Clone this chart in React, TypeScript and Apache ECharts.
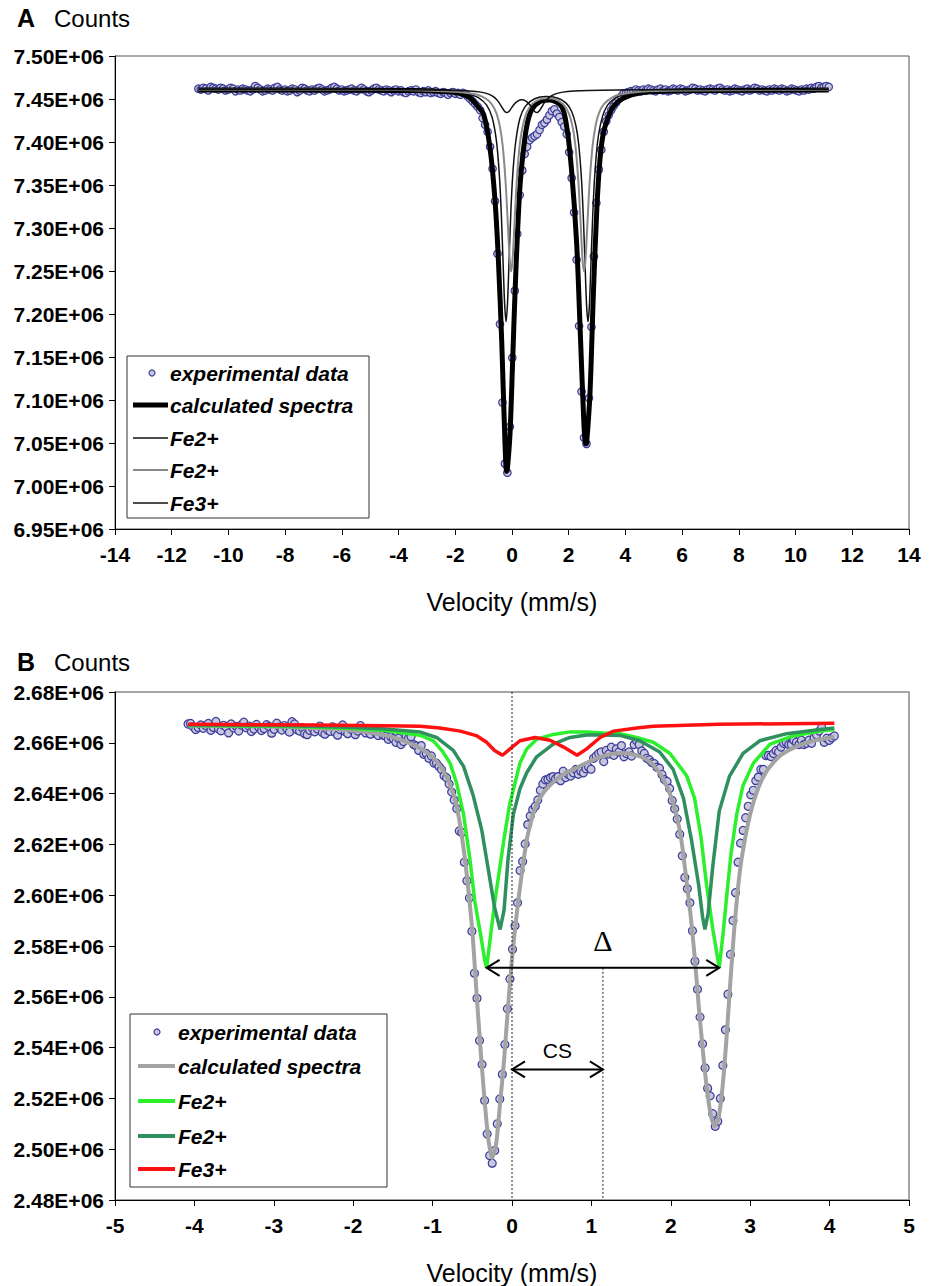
import React, { useEffect, useRef } from 'react';
import * as echarts from 'echarts';

const FONT = 'Arial, "Liberation Sans", Helvetica, sans-serif';

// ---------------- Panel A: wide velocity range ----------------
const A_V_FIRST = -11.06;
const A_V_LAST = 11.17;
// measured counts per channel (thousands)
const aCountsK = [
  7462, 7461, 7463, 7462, 7460, 7464, 7463, 7462, 7461, 7463,
  7462, 7460, 7461, 7463, 7462, 7459, 7461, 7460, 7462, 7461,
  7460, 7459, 7461, 7465, 7463, 7461, 7459, 7460, 7462, 7461,
  7460, 7463, 7464, 7461, 7460, 7461, 7459, 7460, 7462, 7461,
  7458, 7460, 7463, 7462, 7460, 7459, 7461, 7460, 7462, 7463,
  7461, 7459, 7460, 7461, 7463, 7464, 7462, 7460, 7461, 7459,
  7460, 7461, 7462, 7460, 7459, 7461, 7463, 7461, 7459, 7458,
  7460, 7462, 7463, 7461, 7460, 7459, 7461, 7460, 7458, 7460,
  7461, 7459, 7460, 7458, 7457, 7459, 7460, 7459, 7461, 7458,
  7457, 7459, 7458, 7460, 7457, 7458, 7459, 7457, 7456, 7458,
  7457, 7455, 7457, 7458, 7456, 7457, 7455, 7457,
  7456, 7453, 7450, 7447, 7444, 7441, 7437, 7427.5, 7420, 7412,
  7394.5, 7369, 7331, 7270, 7188, 7097, 7026, 7015.5, 7069, 7149,
  7227, 7293, 7338, 7367, 7386, 7394.5, 7402, 7405, 7407, 7409,
  7414, 7420, 7422, 7426, 7431, 7436, 7438, 7433, 7429, 7423,
  7418, 7409, 7388, 7358, 7318, 7263, 7186, 7110, 7056, 7049,
  7102, 7185, 7267, 7329, 7368, 7391, 7412, 7424, 7431, 7437,
  7442, 7446, 7450, 7453, 7456.6,
  7457, 7458, 7459, 7459, 7461, 7460, 7459, 7461, 7460, 7462,
  7461, 7460, 7459, 7461, 7462, 7460, 7461, 7459, 7460, 7462,
  7461, 7460, 7462, 7461, 7459, 7460, 7461, 7463, 7462, 7460,
  7461, 7460, 7459, 7461, 7462, 7461, 7460, 7462, 7463, 7461,
  7460, 7461, 7459, 7460, 7462, 7461, 7460, 7459, 7461, 7462,
  7460, 7461, 7463, 7462, 7460, 7461, 7460, 7459, 7461, 7460,
  7462, 7461, 7460, 7462, 7461, 7459, 7460, 7462, 7461, 7460,
  7459, 7461, 7460, 7462, 7461, 7463, 7462, 7464, 7465, 7463,
  7464, 7465, 7464,
];
// fitted envelope [velocity, thousands of counts]
const aCalcK = [
  [-11.06, 7460.5], [-6, 7460.3], [-4, 7460], [-3, 7459.5], [-2.5, 7458.8], [-2.0, 7457.5],
  [-1.7, 7455], [-1.5, 7452], [-1.245, 7443], [-1.0, 7432], [-0.776, 7393], [-0.6, 7332.6],
  [-0.48, 7262.8], [-0.36, 7166], [-0.247, 7049.6], [-0.19, 7017], [-0.166, 7018.6], [-0.07, 7061],
  [0.024, 7146.5], [0.106, 7224], [0.188, 7289.9], [0.28, 7348], [0.376, 7383], [0.517, 7417.8],
  [0.69, 7437.2], [0.987, 7446.9], [1.34, 7448.8], [1.75, 7441], [1.93, 7417.8], [2.1, 7367.4],
  [2.28, 7282], [2.4, 7185.3], [2.54, 7069], [2.6, 7049], [2.63, 7049.6], [2.75, 7107.8], [2.87, 7224],
  [2.99, 7321], [3.1, 7379], [3.22, 7410], [3.4, 7429.4], [3.57, 7441], [3.92, 7450.8],
  [4.51, 7457], [6, 7459.5], [11.17, 7460.5],
];
const aFe2BlackK = [
  [-11.06, 7460.9], [-4, 7460.2], [-2, 7457.9], [-1.5, 7455.4], [-1.2, 7451.8], [-0.9, 7443.2],
  [-0.7, 7428.5], [-0.55, 7401.6], [-0.45, 7363.7], [-0.38, 7319], [-0.31, 7255.6], [-0.26, 7211.6],
  [-0.21, 7191], [-0.16, 7211.6], [-0.11, 7255.6], [-0.04, 7319], [0.03, 7363.7], [0.13, 7400],
  [0.28, 7427.6], [0.48, 7442], [0.8, 7450.3], [1.2, 7452.8], [1.6, 7451.1], [1.9, 7445.5],
  [2.1, 7435.8], [2.25, 7419.5], [2.35, 7398], [2.45, 7357], [2.52, 7309], [2.58, 7254],
  [2.63, 7210], [2.68, 7191], [2.73, 7210], [2.78, 7254], [2.84, 7309], [2.91, 7357],
  [3.01, 7398], [3.11, 7418.7], [3.26, 7436], [3.46, 7446.5], [3.8, 7453.6], [4.3, 7457],
  [5.5, 7459.5], [8, 7460.6], [11.17, 7460.8],
];
const aFe2GrayK = [
  [-11.06, 7460.8], [-4, 7460.4], [-2, 7458.5], [-1.5, 7456.8], [-1.2, 7454.7], [-0.9, 7450],
  [-0.7, 7443.3], [-0.55, 7433.5], [-0.43, 7418.5], [-0.33, 7396], [-0.23, 7355.5], [-0.15, 7306.5],
  [-0.08, 7263], [-0.03, 7249.7], [0.02, 7263], [0.09, 7306.5], [0.17, 7355.5], [0.27, 7396],
  [0.37, 7417], [0.52, 7434.4], [0.72, 7444.6], [1.0, 7449.9], [1.255, 7451], [1.5, 7450],
  [1.8, 7444.2], [2.0, 7433.6], [2.14, 7417.2], [2.24, 7394.7], [2.34, 7354.5], [2.42, 7305.5],
  [2.49, 7262], [2.54, 7249.7], [2.59, 7262], [2.66, 7305.5], [2.74, 7354.5], [2.84, 7395],
  [2.94, 7417.5], [3.06, 7433], [3.24, 7444], [3.54, 7452], [3.84, 7455.5], [4.5, 7458.5],
  [6, 7459.8], [9, 7460.5], [11.17, 7460.7],
];
const aFe3K = [
  [-11.06, 7461], [-4, 7460.8], [-2, 7460], [-1.5, 7459.4], [-1.1, 7458], [-0.8, 7455.4],
  [-0.6, 7451.3], [-0.45, 7445.5], [-0.35, 7440.1], [-0.27, 7436.1], [-0.19, 7434.2], [-0.11, 7435.5],
  [-0.03, 7439.1], [0.07, 7443.7], [0.2, 7447.6], [0.345, 7449], [0.49, 7447.6], [0.62, 7443.7],
  [0.72, 7439.1], [0.8, 7435.5], [0.88, 7434.2], [0.96, 7436.1], [1.04, 7440.1], [1.14, 7445.5],
  [1.29, 7451.3], [1.49, 7455.4], [1.79, 7458], [2.19, 7459.4], [2.69, 7460], [4.69, 7460.8],
  [11.17, 7461],
];

// ---------------- Panel B: narrow velocity range ----------------
const B_V_FIRST = -4.08;
const B_V_LAST = 4.06;
const bCountsK = [
  2667.4, 2667.6, 2666.3, 2665.2, 2666.0, 2667.0, 2665.7, 2666.8, 2667.6, 2664.9,
  2666.1, 2668.4, 2665.5, 2664.7, 2666.9, 2666.2, 2663.9, 2667.4, 2665.8, 2666.5,
  2664.6, 2667.0, 2668.1, 2665.9, 2666.6, 2664.4, 2665.4, 2667.2, 2666.0, 2664.8,
  2665.6, 2667.1, 2666.4, 2663.8, 2665.3, 2667.7, 2666.2, 2665.0, 2666.8, 2665.5,
  2664.2, 2668.3, 2667.4, 2665.1, 2664.6, 2666.0, 2663.6, 2663.2, 2664.9, 2665.8,
  2664.3, 2665.5, 2666.6, 2664.0, 2663.4, 2665.0, 2664.5, 2666.3, 2664.1, 2663.0,
  2665.2, 2667.0, 2664.4, 2663.6, 2665.6, 2664.8, 2663.2, 2664.6, 2666.8, 2664.9,
  2663.9, 2664.6, 2663.4, 2664.8, 2663.9, 2662.9, 2664.2, 2663.0, 2662.6, 2661.4,
  2662.4, 2661.6, 2660.2, 2661.8, 2659.3, 2660.5, 2662.7, 2661.8, 2662.4, 2659.3,
  2658.8, 2657.0, 2658.9, 2655.5, 2655.8, 2653.9, 2654.8, 2652.0, 2652.0, 2650.7,
  2649.5, 2647.0, 2646.2, 2643.8, 2640.6, 2637.5, 2634.1, 2625.3, 2624.7, 2613.0,
  2605.7, 2598.9, 2585.8, 2569.3, 2559.4, 2542.8, 2533.4, 2519.2, 2506.0, 2497.5,
  2494.5, 2499.5, 2510.0, 2519.8, 2529.5, 2541.2, 2555.3, 2567.0, 2578.7, 2588.0,
  2597.0, 2609.7, 2613.3, 2620.2, 2627.8, 2631.2, 2633.7, 2635.0, 2637.5, 2641.3,
  2643.8, 2645.4, 2645.6, 2646.3, 2646.7, 2645.9, 2646.7, 2645.1, 2648.8, 2646.3,
  2647.6, 2646.9, 2648.2, 2649.5, 2647.6, 2648.8, 2648.2, 2649.8, 2650.5, 2649.6,
  2653.9, 2654.8, 2655.8, 2656.4, 2652.6, 2657.0, 2655.6, 2658.3, 2655.1, 2657.6,
  2656.4, 2658.9, 2654.5, 2655.8, 2656.4, 2654.8, 2659.3, 2660.8, 2659.3, 2656.8,
  2655.8, 2653.9, 2653.3, 2652.2, 2651.8, 2650.4, 2650.0, 2647.5, 2645.5, 2644.8,
  2642.0, 2637.3, 2634.0, 2630.0, 2624.0, 2615.5, 2607.0, 2602.5, 2597.0, 2586.0,
  2574.0, 2563.0, 2552.0, 2541.5, 2532.0, 2524.0, 2521.0, 2514.0, 2509.0, 2511.0,
  2520.0, 2533.0, 2547.0, 2561.0, 2576.7, 2590.0, 2601.0, 2613.0, 2620.5, 2625.5,
  2630.5, 2635.0, 2639.5, 2641.3, 2645.1, 2646.5, 2649.5, 2649.5, 2655.0, 2655.0,
  2654.6, 2655.8, 2657.0, 2656.4, 2658.3, 2659.8, 2660.2, 2659.3, 2659.3, 2661.0,
  2660.2, 2659.3, 2661.0, 2659.3, 2659.8, 2661.0, 2659.8, 2662.1, 2663.1, 2664.6,
  2666.1, 2660.2, 2661.8, 2661.0, 2662.0, 2662.7,
];
const bCalcK = [
  [-4.08, 2666.8], [-3.0, 2666.4], [-2.5, 2665.8], [-2.0, 2664.8], [-1.7, 2663.6], [-1.5, 2662.2],
  [-1.3, 2660.0], [-1.15, 2657.8], [-1.0, 2654.3], [-0.9, 2650.6], [-0.8, 2645.0], [-0.7, 2635.5],
  [-0.6, 2616.0], [-0.5, 2586.0], [-0.45, 2563.0], [-0.4, 2541.0], [-0.35, 2521.0], [-0.3, 2504.5],
  [-0.25, 2496.5], [-0.2, 2502.0], [-0.15, 2518.0], [-0.1, 2535.0], [-0.05, 2556.0], [0.0, 2575.0],
  [0.05, 2590.0], [0.1, 2603.0], [0.15, 2614.5], [0.2, 2624.0], [0.3, 2635.0], [0.4, 2640.5],
  [0.5, 2644.0], [0.6, 2646.5], [0.7, 2648.5], [0.8, 2650.0], [0.9, 2651.5], [1.0, 2653.0],
  [1.1, 2654.3], [1.2, 2655.2], [1.3, 2655.8], [1.4, 2656.0], [1.5, 2655.6], [1.6, 2654.8],
  [1.7, 2653.3], [1.8, 2650.5], [1.9, 2646.0], [2.0, 2639.0], [2.1, 2627.5], [2.15, 2618.0],
  [2.2, 2605.0], [2.25, 2592.0], [2.3, 2576.0], [2.35, 2557.0], [2.4, 2540.0], [2.45, 2525.0],
  [2.5, 2514.0], [2.55, 2509.0], [2.6, 2512.0], [2.65, 2524.0], [2.7, 2543.0], [2.75, 2566.0],
  [2.8, 2587.0], [2.85, 2604.0], [2.9, 2616.0], [3.0, 2632.0], [3.1, 2642.0], [3.2, 2648.5],
  [3.3, 2652.5], [3.4, 2655.5], [3.6, 2658.8], [3.8, 2660.8], [4.06, 2662.3],
];
const bFe2LimeK = [
  [-4.08, 2666.8], [-3.0, 2666.5], [-2.5, 2666.2], [-2.0, 2665.6], [-1.6, 2664.8], [-1.16, 2663.0],
  [-0.99, 2660.8], [-0.87, 2656.4], [-0.78, 2652.0], [-0.7, 2644.4], [-0.61, 2631.8], [-0.53, 2614.2],
  [-0.47, 2597.8], [-0.4, 2585.3], [-0.34, 2573.9], [-0.32, 2571.4], [-0.28, 2581.5], [-0.22, 2596.6],
  [-0.15, 2611.7], [-0.09, 2624.3], [-0.03, 2635.6], [0.04, 2644.4], [0.1, 2652.0], [0.185, 2657.6],
  [0.31, 2661.4], [0.52, 2663.3], [0.73, 2664.3], [0.94, 2664.3], [1.15, 2663.9], [1.36, 2663.6],
  [1.57, 2662.1], [1.78, 2660.2], [1.99, 2655.8], [2.2, 2647.0], [2.3, 2638.1], [2.38, 2623.0],
  [2.45, 2604.2], [2.53, 2586.5], [2.61, 2571.4], [2.66, 2585.3], [2.71, 2601.6], [2.76, 2616.7],
  [2.83, 2631.8], [2.91, 2643.2], [3.04, 2652.0], [3.25, 2659.5], [3.54, 2662.7], [3.88, 2664.6],
  [4.06, 2665.2],
];
const bFe2DarkK = [
  [-4.08, 2667.0], [-3.0, 2666.8], [-2.5, 2666.5], [-2.0, 2666.0], [-1.6, 2665.4], [-1.16, 2664.3],
  [-0.95, 2662.1], [-0.74, 2657.0], [-0.61, 2650.7], [-0.49, 2639.4], [-0.38, 2625.5], [-0.3, 2610.4],
  [-0.22, 2595.3], [-0.15, 2586.5], [-0.1, 2594.1], [-0.05, 2614.2], [0.017, 2631.8], [0.1, 2641.9],
  [0.185, 2648.2], [0.31, 2654.5], [0.52, 2659.5], [0.73, 2662.1], [0.94, 2663.1], [1.15, 2663.1],
  [1.36, 2662.9], [1.61, 2660.8], [1.86, 2656.4], [2.03, 2649.5], [2.16, 2638.1], [2.26, 2621.8],
  [2.35, 2604.2], [2.4, 2591.5], [2.43, 2586.5], [2.47, 2592.8], [2.53, 2611.7], [2.61, 2633.1],
  [2.74, 2646.9], [2.91, 2655.8], [3.12, 2660.8], [3.46, 2663.6], [3.88, 2665.2], [4.06, 2665.8],
];
const bFe3K = [
  [-4.08, 2667.3], [-2.5, 2667.0], [-1.6, 2666.7], [-1.16, 2666.5], [-0.91, 2665.8], [-0.65, 2664.6],
  [-0.44, 2662.7], [-0.32, 2660.2], [-0.22, 2657.0], [-0.12, 2655.1], [-0.025, 2657.6], [0.1, 2660.8],
  [0.29, 2662.1], [0.48, 2661.0], [0.65, 2658.3], [0.82, 2655.1], [0.94, 2657.6], [1.11, 2662.1],
  [1.28, 2664.6], [1.57, 2665.8], [1.78, 2666.5], [2.61, 2667.3], [4.06, 2667.7],
];

// quadrupole splitting and centre shift markers (velocity, thousands of counts)
const DELTA_LEFT_V = -0.32;
const DELTA_RIGHT_V = 2.61;
const DELTA_LEVEL_K = 2571.4;
const CS_LEVEL_K = 2531.4;

const channels = (first: number, last: number, n: number) =>
  Array.from({ length: n }, (_, i) => first + (i * (last - first)) / (n - 1));
const pointsFromCounts = (counts: number[], first: number, last: number) => {
  const v = channels(first, last, counts.length);
  return counts.map((k, i) => [v[i], k * 1000]);
};
const scaled = (pairs: number[][]) => pairs.map(([v, k]) => [v, k * 1000]);

const expFormat = (val: number) => (val / 1e6).toFixed(2) + 'E+06';

const DOT_FILL = '#c6c6dc';
const DOT_STROKE = '#3b3b9c';
const LIME = '#2cf02c';
const DARK_GREEN = '#2f8f5f';
const RED = '#ff1010';
const CALC_GRAY = '#a3a3a3';

const tickLabel = {
  fontFamily: FONT,
  fontWeight: 'bold' as const,
  fontSize: 21,
  color: '#000',
};

function xAxisFor(gridIndex: number, min: number, max: number, interval: number) {
  return {
    type: 'value' as const,
    gridIndex,
    min,
    max,
    interval,
    axisLine: { show: true, onZero: false, lineStyle: { color: '#000', width: 1 } },
    axisTick: { show: true, inside: false, length: 6, lineStyle: { color: '#000' } },
    axisLabel: { ...tickLabel, margin: 15 },
    splitLine: { show: false },
    name: 'Velocity (mm/s)',
    nameLocation: 'middle' as const,
    nameGap: 60,
    nameTextStyle: { fontFamily: FONT, fontSize: 25, color: '#000' },
  };
}

function yAxisFor(gridIndex: number, min: number, max: number, interval: number) {
  return {
    type: 'value' as const,
    gridIndex,
    min,
    max,
    interval,
    axisLine: { show: true, onZero: false, lineStyle: { color: '#000', width: 1 } },
    axisTick: { show: true, inside: false, length: 6, lineStyle: { color: '#000' } },
    axisLabel: { ...tickLabel, margin: 11, formatter: expFormat },
    splitLine: { show: false },
  };
}

function lineSeries(name: string, x: number, data: number[][], color: string, width: number, smooth: number | boolean) {
  return {
    type: 'line' as const,
    name,
    xAxisIndex: x,
    yAxisIndex: x,
    data,
    showSymbol: false,
    symbol: 'none',
    smooth,
    lineStyle: { color, width },
    silent: true,
  };
}

function scatterSeries(x: number, data: number[][], size: number) {
  return {
    type: 'scatter' as const,
    name: 'experimental data',
    xAxisIndex: x,
    yAxisIndex: x,
    data,
    symbol: 'circle',
    symbolSize: size,
    itemStyle: { color: DOT_FILL, borderColor: DOT_STROKE, borderWidth: 1.2, opacity: 1 },
    silent: true,
  };
}

type Row = { kind: 'dot' | 'line'; color: string; width: number; label: string };

function legendBox(x: number, y: number, w: number, h: number, rowY: number[], rows: Row[], lineX: [number, number], dotX: number, textX: number) {
  const els: any[] = [
    { type: 'rect', z: 100, shape: { x, y, width: w, height: h }, style: { fill: '#fff', stroke: '#333', lineWidth: 1 } },
  ];
  rows.forEach((r, i) => {
    const cy = rowY[i];
    if (r.kind === 'dot') {
      els.push({ type: 'circle', z: 101, shape: { cx: dotX, cy, r: 3 }, style: { fill: DOT_FILL, stroke: DOT_STROKE, lineWidth: 1.2 } });
    } else {
      els.push({ type: 'line', z: 101, shape: { x1: lineX[0], y1: cy, x2: lineX[1], y2: cy }, style: { stroke: r.color, lineWidth: r.width } });
    }
    els.push({
      type: 'text', z: 101, x: textX, y: cy,
      style: { text: r.label, fill: '#000', font: `italic bold 21px ${FONT}`, verticalAlign: 'middle', align: 'left' },
    });
  });
  return els;
}

function panelTitle(letter: string, y: number) {
  return [
    { type: 'text', x: 17, y, style: { text: letter, fill: '#000', font: `bold 25px ${FONT}`, verticalAlign: 'middle' } },
    { type: 'text', x: 54, y, style: { text: 'Counts', fill: '#000', font: `24px ${FONT}`, verticalAlign: 'middle' } },
  ];
}

export default function App() {
  const ref = useRef<HTMLDivElement>(null);

  useEffect(() => {
    document.body.style.margin = '0';
    if (!ref.current) return;
    const chart = echarts.init(ref.current, undefined, { renderer: 'svg' });

    const option: any = {
      animation: false,
      backgroundColor: '#fff',
      grid: [
        { left: 115, top: 56, width: 794, height: 473, show: true, borderColor: '#555', borderWidth: 1 },
        { left: 115, top: 692, width: 794, height: 530, show: true, borderColor: '#888', borderWidth: 1.5 },
      ],
      xAxis: [xAxisFor(0, -14, 14, 2), xAxisFor(1, -5, 5, 1)],
      yAxis: [yAxisFor(0, 6.95e6, 7.5e6, 0.05e6), yAxisFor(1, 2.48e6, 2.68e6, 0.02e6)],
      series: [
        lineSeries('calculated spectra', 0, scaled(aCalcK), '#000', 5, 0.3),
        lineSeries('Fe2+ (1)', 0, scaled(aFe2BlackK), '#111', 1.5, 0.3),
        lineSeries('Fe2+ (2)', 0, scaled(aFe2GrayK), '#8a8a8a', 2, 0.3),
        lineSeries('Fe3+', 0, scaled(aFe3K), '#111', 1.5, 0.3),
        scatterSeries(0, pointsFromCounts(aCountsK, A_V_FIRST, A_V_LAST), 7.5),

        lineSeries('calculated spectra', 1, scaled(bCalcK), CALC_GRAY, 4, 0.2),
        lineSeries('Fe2+ (1)', 1, scaled(bFe2LimeK), LIME, 3.5, false),
        lineSeries('Fe2+ (2)', 1, scaled(bFe2DarkK), DARK_GREEN, 3.5, false),
        lineSeries('Fe3+', 1, scaled(bFe3K), RED, 3.5, false),
        scatterSeries(1, pointsFromCounts(bCountsK, B_V_FIRST, B_V_LAST), 8),
      ],
    };
    chart.setOption(option);

    const px = (v: number, k: number) => chart.convertToPixel({ gridIndex: 1 }, [v, k * 1000]) as number[];
    const [dl, dy] = px(DELTA_LEFT_V, DELTA_LEVEL_K);
    const [dr] = px(DELTA_RIGHT_V, DELTA_LEVEL_K);
    const csV = (DELTA_LEFT_V + DELTA_RIGHT_V) / 2;
    const [cx] = px(csV, DELTA_LEVEL_K);
    const [zx, top] = px(0, 2680);
    const [, bottom] = px(0, 2480);
    const [, cy] = px(0, CS_LEVEL_K);

    const chevron = (x: number, y: number, dir: number) => ({
      type: 'polyline',
      z: 50,
      shape: { points: [[x + dir * 13, y - 8], [x, y], [x + dir * 13, y + 8]] },
      style: { stroke: '#000', lineWidth: 2, fill: null },
    });
    const dotted = { stroke: '#222', lineWidth: 1, lineDash: [2, 2] };

    const annotations: any[] = [
      { type: 'line', z: 40, shape: { x1: zx, y1: top, x2: zx, y2: bottom }, style: dotted },
      { type: 'line', z: 40, shape: { x1: cx, y1: dy, x2: cx, y2: bottom }, style: dotted },
      { type: 'line', z: 50, shape: { x1: dl, y1: dy, x2: dr, y2: dy }, style: { stroke: '#000', lineWidth: 2 } },
      chevron(dl, dy, 1),
      chevron(dr, dy, -1),
      { type: 'text', z: 50, x: cx, y: dy - 27, style: { text: 'Δ', fill: '#000', font: '30px "Liberation Serif", "DejaVu Serif", serif', align: 'center', verticalAlign: 'middle' } },
      { type: 'line', z: 50, shape: { x1: zx, y1: cy, x2: cx, y2: cy }, style: { stroke: '#000', lineWidth: 2 } },
      chevron(zx, cy, 1),
      chevron(cx, cy, -1),
      { type: 'text', z: 50, x: (zx + cx) / 2, y: cy - 19, style: { text: 'CS', fill: '#000', font: `21px ${FONT}`, align: 'center', verticalAlign: 'middle' } },
    ];

    const rowsA: Row[] = [
      { kind: 'dot', color: DOT_FILL, width: 0, label: 'experimental data' },
      { kind: 'line', color: '#000', width: 5, label: 'calculated spectra' },
      { kind: 'line', color: '#111', width: 1.5, label: 'Fe2+' },
      { kind: 'line', color: '#8a8a8a', width: 2, label: 'Fe2+' },
      { kind: 'line', color: '#111', width: 1.5, label: 'Fe3+' },
    ];
    const rowsB: Row[] = [
      { kind: 'dot', color: DOT_FILL, width: 0, label: 'experimental data' },
      { kind: 'line', color: CALC_GRAY, width: 4, label: 'calculated spectra' },
      { kind: 'line', color: LIME, width: 4, label: 'Fe2+' },
      { kind: 'line', color: DARK_GREEN, width: 4, label: 'Fe2+' },
      { kind: 'line', color: RED, width: 4, label: 'Fe3+' },
    ];

    chart.setOption({
      graphic: [
        ...panelTitle('A', 18),
        ...panelTitle('B', 662),
        ...annotations,
        ...legendBox(127, 356, 242, 162, [373, 405, 438, 470, 503], rowsA, [133, 168], 152, 170),
        ...legendBox(130, 1014, 257, 173, [1032, 1066, 1101, 1136, 1169], rowsB, [138, 175], 157, 178),
      ],
    });

    return () => chart.dispose();
  }, []);

  return <div ref={ref} style={{ width: 932, height: 1286 }} />;
}
